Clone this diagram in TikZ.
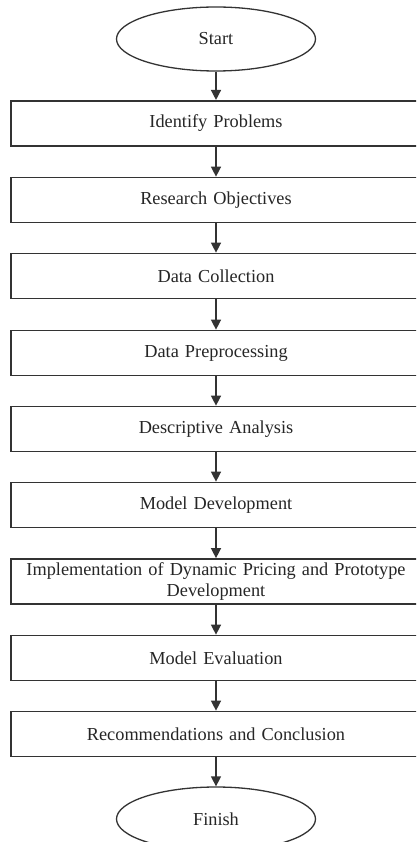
\documentclass[tikz,border=0pt]{standalone}
\usepackage{fontspec}
\setmainfont{Liberation Serif}
\usetikzlibrary{shapes.geometric,arrows.meta}
\begin{document}
\begin{tikzpicture}[x=1pt,y=-1pt,
  every node/.style={font=\fontsize{18.3}{22.5}\selectfont, text=black!85},
  stepbox/.style={draw=black!80, line width=1.7pt, rectangle, minimum width=410pt,
    minimum height=45pt, inner sep=0pt, align=center, text width=400pt},
  terminal/.style={draw=black!80, line width=1.3pt, ellipse, minimum width=199pt,
    minimum height=64pt, inner sep=0pt},
  flow/.style={draw=black!80, line width=1.4pt, -{Triangle[length=10pt,width=10pt]}}]
\clip (0,0) rectangle (416,842);
\fill[white] (0,0) rectangle (416,842);

\node[terminal] (start) at (216,39) {Start};
\node[stepbox] (s1) at (216,123.3) {Identify Problems};
\node[stepbox] (s2) at (216,200) {Research Objectives};
\node[stepbox] (s3) at (216,276) {Data Collection};
\node[stepbox] (s4) at (216,353) {Data Preprocessing};
\node[stepbox] (s5) at (216,429) {Descriptive Analysis};
\node[stepbox] (s6) at (216,505) {Model Development};
\node[stepbox] (s7) at (216,581.5) {Implementation of Dynamic Pricing and Prototype\\[-1pt]Development};
\node[stepbox] (s8) at (216,658) {Model Evaluation};
\node[stepbox] (s9) at (216,734) {Recommendations and Conclusion};
\node[terminal] (finish) at (216,819) {Finish};

\draw[flow] (start) -- (s1);
\draw[flow] (s1) -- (s2);
\draw[flow] (s2) -- (s3);
\draw[flow] (s3) -- (s4);
\draw[flow] (s4) -- (s5);
\draw[flow] (s5) -- (s6);
\draw[flow] (s6) -- (s7);
\draw[flow] (s7) -- (s8);
\draw[flow] (s8) -- (s9);
\draw[flow] (s9) -- (finish);
\end{tikzpicture}
\end{document}
